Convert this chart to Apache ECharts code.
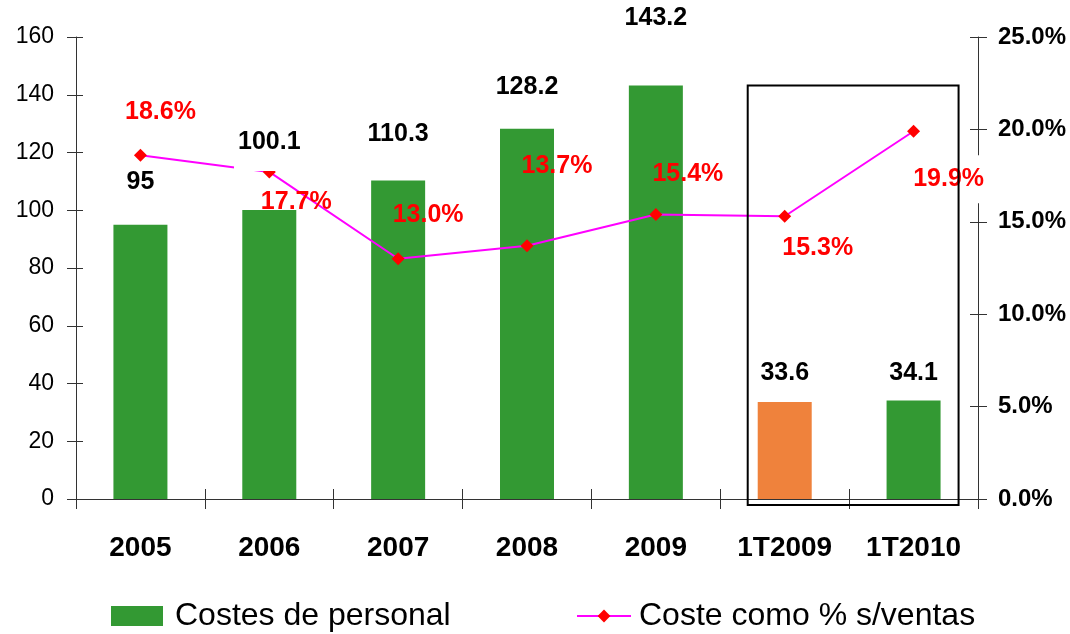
<!DOCTYPE html>
<html>
<head>
<meta charset="utf-8">
<script src="https://cdn.jsdelivr.net/npm/echarts@6/dist/echarts.min.js"></script>
<style>
  html, body { margin: 0; padding: 0; background: #fff; }
  #chart { width: 1070px; height: 634px; }
</style>
</head>
<body>
<div id="chart"></div>
<script>
// data
const categories = ['2005', '2006', '2007', '2008', '2009', '1T2009', '1T2010']
const costes = [95, 100.1, 110.3, 128.2, 143.2, 33.6, 34.1]
const ratio = [18.6, 17.7, 13.0, 13.7, 15.4, 15.3, 19.9]
const leftAxis = { min: 0, max: 160, interval: 20 }
const rightAxis = { min: 0, max: 25, interval: 5 }

// label placement (style only)
const costLabelDist = [30, 39, 34, 29, 55, 16, 15]
const ratioLabelOffset = [[20, -43], [27, 30], [30, -44], [30, -80], [32, -40], [33, 32], [37, 48]]
const highlight = '1T2009'

const font = 'Liberation Sans, Arial, sans-serif'
const axisColor = '#333'
const green = '#339933'
const orange = '#EF823C'

let myChart = echarts.init(document.getElementById('chart'))

let options = {
  animation: false,
  grid: { left: 76, right: 92, top: 37, bottom: 135, outerBoundsMode: 'none' },
  legend: [{
    left: 106,
    top: 595,
    icon: 'rect',
    itemWidth: 52,
    itemHeight: 20,
    data: ['Costes de personal'],
    textStyle: { fontFamily: font, fontSize: 32, color: '#000', padding: [0, 0, 0, 7] }
  }, {
    left: 571,
    top: 595,
    itemWidth: 54,
    itemHeight: 16,
    lineStyle: { width: 2 },
    data: ['Coste como % s/ventas'],
    textStyle: { fontFamily: font, fontSize: 32, color: '#000', padding: [0, 0, 0, 3] }
  }],
  xAxis: [{
    type: 'category',
    data: categories,
    axisLine: { show: true, lineStyle: { color: axisColor, width: 1 } },
    axisTick: { show: true, length: 10, lineStyle: { color: axisColor } },
    axisLabel: { margin: 35, fontFamily: font, fontSize: 28, fontWeight: 'bold', color: '#000' }
  }, {
    type: 'category',
    data: categories,
    position: 'bottom',
    axisLine: { show: false },
    axisTick: { show: true, inside: true, length: 10, lineStyle: { color: axisColor } },
    axisLabel: { show: false }
  }],
  yAxis: [{
    type: 'value',
    position: 'left',
    min: leftAxis.min,
    max: leftAxis.max,
    interval: leftAxis.interval,
    splitLine: { show: false },
    axisLine: { show: true, lineStyle: { color: axisColor } },
    axisTick: { show: true, length: 9, lineStyle: { color: axisColor } },
    axisLabel: { margin: 22, fontFamily: font, fontSize: 23, color: '#000' }
  }, {
    type: 'value',
    position: 'right',
    min: rightAxis.min,
    max: rightAxis.max,
    interval: rightAxis.interval,
    splitLine: { show: false },
    axisLine: { show: true, lineStyle: { color: axisColor } },
    axisTick: { show: true, length: 9, lineStyle: { color: axisColor } },
    axisLabel: {
      margin: 20, fontFamily: font, fontSize: 24, fontWeight: 'bold', color: '#000',
      formatter: v => v.toFixed(1) + '%'
    }
  }, {
    type: 'value',
    position: 'left',
    min: leftAxis.min,
    max: leftAxis.max,
    interval: leftAxis.interval,
    splitLine: { show: false },
    axisLine: { show: false },
    axisTick: { show: true, inside: true, length: 7, lineStyle: { color: axisColor } },
    axisLabel: { show: false }
  }, {
    type: 'value',
    position: 'right',
    min: rightAxis.min,
    max: rightAxis.max,
    interval: rightAxis.interval,
    splitLine: { show: false },
    axisLine: { show: false },
    axisTick: { show: true, inside: true, length: 8, lineStyle: { color: axisColor } },
    axisLabel: { show: false }
  }],
  series: [{
    name: 'Costes de personal',
    type: 'bar',
    barWidth: 54,
    z: 2,
    itemStyle: { color: green },
    data: costes.map((v, i) => ({
      value: v,
      itemStyle: { color: categories[i] === highlight ? orange : green }
    }))
  }, {
    // transparent copy that carries the value labels above the line
    name: 'labels',
    type: 'bar',
    barWidth: 54,
    barGap: '-100%',
    z: 4,
    silent: true,
    itemStyle: { color: 'rgba(0,0,0,0)' },
    label: {
      show: true,
      position: 'top',
      fontFamily: font,
      fontSize: 25,
      fontWeight: 'bold',
      color: '#000',
      backgroundColor: '#fff'
    },
    data: costes.map((v, i) => ({
      value: v,
      label: { distance: costLabelDist[i], padding: i === 1 ? [2, 4, 16, 4] : 0 }
    }))
  }, {
    name: 'Coste como % s/ventas',
    type: 'line',
    yAxisIndex: 1,
    z: 3,
    symbol: 'diamond',
    symbolSize: 13,
    itemStyle: { color: '#ff0000' },
    lineStyle: { color: '#ff00ff', width: 2 },
    label: {
      show: true,
      position: 'inside',
      fontFamily: font,
      fontSize: 25,
      fontWeight: 'bold',
      color: '#ff0000',
      formatter: p => p.value.toFixed(1) + '%'
    },
    data: ratio.map((v, i) => ({
      value: v,
      label: i === ratio.length - 1
        ? { offset: ratioLabelOffset[i], backgroundColor: '#fff', padding: [9, 4, 14, 0] }
        : { offset: ratioLabelOffset[i] }
    }))
  }]
}

myChart.setOption(options)

// frame around the quarterly columns
let x0 = myChart.convertToPixel({ xAxisIndex: 0 }, '1T2009') - 37
let x1 = myChart.convertToPixel({ xAxisIndex: 0 }, '1T2010') + 45
let yTop = myChart.convertToPixel({ yAxisIndex: 0 }, Math.max(...costes))
let yBot = myChart.convertToPixel({ yAxisIndex: 0 }, 0) + 6
myChart.setOption({
  graphic: [{
    type: 'rect',
    z: 10,
    shape: { x: x0, y: yTop, width: x1 - x0, height: yBot - yTop },
    style: { fill: 'none', stroke: '#000', lineWidth: 2 }
  }]
})
</script>
</body>
</html>
